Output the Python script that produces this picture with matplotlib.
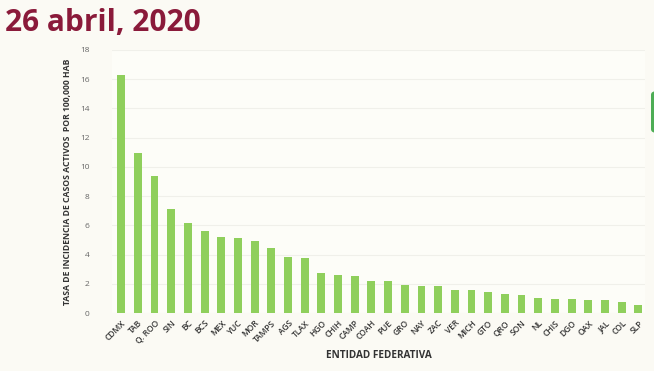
import matplotlib
matplotlib.use("Agg")
import matplotlib.pyplot as plt
from matplotlib.patches import FancyBboxPatch

states = ["CDMX", "TAB", "Q. ROO", "SIN", "BC", "BCS", "MEX", "YUC", "MOR", "TAMPS",
          "AGS", "TLAX", "HGO", "CHIH", "CAMP", "COAH", "PUE", "GRO", "NAY", "ZAC",
          "VER", "MICH", "GTO", "QRO", "SON", "NL", "CHIS", "DGO", "OAX", "JAL",
          "COL", "SLP"]
rates = [16.29, 10.98, 9.41, 7.10, 6.17, 5.58, 5.19, 5.12, 4.90, 4.44,
         3.85, 3.76, 2.75, 2.60, 2.50, 2.20, 2.16, 1.91, 1.87, 1.87,
         1.57, 1.57, 1.41, 1.32, 1.25, 1.05, 0.98, 0.93, 0.91, 0.89,
         0.77, 0.57]
yticks = list(range(0, 19, 2))

plt.rcParams['font.family'] = ['Open Sans', 'DejaVu Sans']

W, H = 654, 371
fig = plt.figure(figsize=(W / 100, H / 100), dpi=100)
fig.patch.set_facecolor('#fbfaf4')

left, right, top, bottom = 112, 645, 50, 313
ax = fig.add_axes([left / W, 1 - bottom / H, (right - left) / W, (bottom - top) / H])
ax.set_facecolor('#fdfdf8')

x = list(range(len(states)))
ax.bar(x, rates, width=0.47, color='#8fcf5c', zorder=3)
ax.set_xlim(-0.55, len(states) - 0.6)
ax.set_ylim(0, 18)
ax.set_yticks(yticks)
ax.set_yticklabels([str(t) for t in yticks], fontsize=6, color='#666666')
ax.set_xticks(x)
ax.set_xticklabels(states, rotation=45, ha='right', rotation_mode='anchor',
                   fontsize=6, fontweight='semibold', color='#333333')
ax.tick_params(axis='both', length=0)
ax.tick_params(axis='y', pad=16)
ax.tick_params(axis='x', pad=4)
ax.grid(axis='y', color='#f0f0ea', linewidth=0.8, zorder=0)
for s in ax.spines.values():
    s.set_visible(False)

ax.set_ylabel("TASA DE INCIDENCIA DE CASOS ACTIVOS  POR 100,000 HAB",
              fontsize=6.2, fontweight='bold', color='#333333')
ax.yaxis.set_label_coords((72 - left) / (right - left), 0.5)
ax.set_xlabel("ENTIDAD FEDERATIVA", fontsize=7.2, fontweight='bold',
              color='#333333', labelpad=3)

fig.text(5 / W, 1 - 23 / H, "26 abril, 2020", fontsize=21.5, fontweight='bold',
         color='#8a1a3a', va='center', ha='left')

tab = FancyBboxPatch((651 / W, 1 - 133 / H), 8 / W, 42 / H,
                     boxstyle="round,pad=0,rounding_size=0.01",
                     transform=fig.transFigure, facecolor='#4dad55',
                     edgecolor='none')
fig.patches.append(tab)

fig.savefig("out.png", dpi=100, facecolor=fig.get_facecolor())
